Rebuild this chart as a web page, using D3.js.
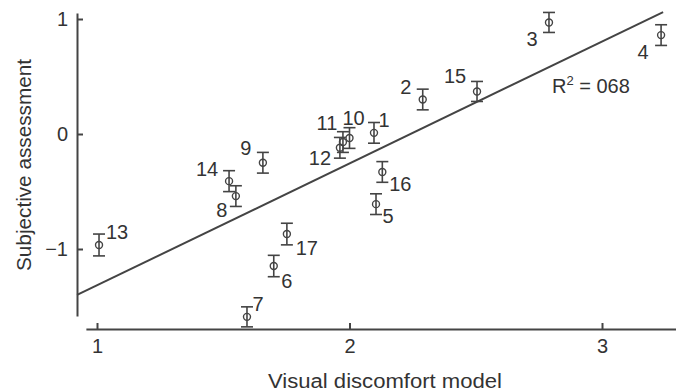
<!DOCTYPE html>
<html>
<head>
<meta charset="utf-8">
<script src="https://cdn.jsdelivr.net/npm/d3@7"></script>
<style>
  body { margin: 0; background: #fff; }
  svg text { font-family: "Liberation Sans", Arial, sans-serif; fill: #333; }
</style>
</head>
<body>
<div id="chart"></div>
<script>
// data
const ids = ["1","2","3","4","5","6","7","8","9","10","11","12","13","14","15","16","17"];
const modelVals = [2.097, 2.29, 2.79, 3.234, 2.105, 1.70, 1.594, 1.55, 1.657, 2.0, 1.974, 1.962, 1.008, 1.523, 2.505, 2.13, 1.752];
const subjVals = [0.01, 0.30, 0.97, 0.86, -0.61, -1.148, -1.59, -0.54, -0.25, -0.035, -0.07, -0.12, -0.965, -0.41, 0.37, -0.33, -0.87];
const errVals = [0.09, 0.09, 0.087, 0.09, 0.09, 0.093, 0.087, 0.09, 0.09, 0.09, 0.09, 0.09, 0.095, 0.091, 0.087, 0.09, 0.094];
const xTicks = [1, 2, 3];
const yTicks = [-1, 0, 1];
const fitSlope = 1.06, fitIntercept = -2.376;
const fitRange = [0.921, 3.242];
const r2Text = "068";

// label placement (px offsets from each point)
const labelOffsets = [[10,-6],[-17,-6],[-17,24],[-18,24],[12,19],[13,22],[11,-6],[-14,21],[-17,-8],
  [4,-13],[-16,-12],[-20,17],[18,-6],[-22,-5],[-22,-8],[18,19],[20,21]];

const width = 676, height = 392;
const ink = "#444";

const svg = d3.select("#chart").append("svg")
  .attr("width", width)
  .attr("height", height);

const x = d3.scaleLinear().domain([1, 3]).range([97, 602]);
const y = d3.scaleLinear().domain([-1, 1]).range([249, 19]);

// axes, drawn with scale copies so the axis lines cover the plotted span
const xAxisScale = x.copy().domain([0.956, 3.32]).range([x(0.956), x(3.32)]);
const yAxisScale = y.copy().domain([-1.583, 1.052]).range([y(-1.583), y(1.052)]);

const gx = svg.append("g")
  .attr("transform", "translate(0,329)")
  .call(d3.axisBottom(xAxisScale).tickValues(xTicks).tickSizeInner(-6).tickSizeOuter(0).tickPadding(10).tickFormat(d3.format("d")));

const gy = svg.append("g")
  .attr("transform", "translate(77,0)")
  .call(d3.axisLeft(yAxisScale).tickValues(yTicks).tickSizeInner(-6).tickSizeOuter(0).tickPadding(10)
    .tickFormat(d => d < 0 ? "\u2212" + Math.abs(d) : d));

[gx, gy].forEach(g => {
  g.select(".domain").attr("stroke", ink).attr("stroke-width", 2);
  g.selectAll(".tick line").attr("stroke", ink).attr("stroke-width", 2);
  g.selectAll(".tick text").attr("fill", "#333").style("font-size", "20px")
    .style("font-family", "'Liberation Sans', Arial, sans-serif");
});
gy.selectAll(".tick text").attr("x", -9);

// regression line
svg.append("line")
  .attr("x1", x(fitRange[0])).attr("y1", y(fitSlope * fitRange[0] + fitIntercept))
  .attr("x2", x(fitRange[1])).attr("y2", y(fitSlope * fitRange[1] + fitIntercept))
  .attr("stroke", ink).attr("stroke-width", 2);

const pts = ids.map((id, i) => ({ id, mx: modelVals[i], sv: subjVals[i], e: errVals[i], off: labelOffsets[i] }));

const g = svg.append("g").selectAll("g").data(pts).join("g");

g.append("line")
  .attr("x1", d => x(d.mx)).attr("x2", d => x(d.mx))
  .attr("y1", d => y(d.sv - d.e)).attr("y2", d => y(d.sv + d.e))
  .attr("stroke", ink).attr("stroke-width", 1.6);
g.append("line")
  .attr("x1", d => x(d.mx) - 6).attr("x2", d => x(d.mx) + 6)
  .attr("y1", d => y(d.sv + d.e)).attr("y2", d => y(d.sv + d.e))
  .attr("stroke", ink).attr("stroke-width", 1.6);
g.append("line")
  .attr("x1", d => x(d.mx) - 6).attr("x2", d => x(d.mx) + 6)
  .attr("y1", d => y(d.sv - d.e)).attr("y2", d => y(d.sv - d.e))
  .attr("stroke", ink).attr("stroke-width", 1.6);
g.append("circle")
  .attr("cx", d => x(d.mx)).attr("cy", d => y(d.sv))
  .attr("r", 3.5)
  .attr("fill", "none").attr("stroke", ink).attr("stroke-width", 1.4);

g.append("text")
  .attr("x", d => x(d.mx) + d.off[0])
  .attr("y", d => y(d.sv) + d.off[1])
  .attr("text-anchor", "middle")
  .style("font-size", "20px")
  .text(d => d.id);

// R squared note
const r2 = svg.append("text").attr("x", 552).attr("y", 93).style("font-size", "20px");
r2.append("tspan").text("R");
r2.append("tspan").attr("dy", -8).style("font-size", "13px").text("2");
r2.append("tspan").attr("dy", 8).text(" = " + r2Text);

// axis titles
svg.append("text")
  .attr("x", 385).attr("y", 388)
  .attr("text-anchor", "middle")
  .attr("textLength", 234).attr("lengthAdjust", "spacingAndGlyphs")
  .style("font-size", "20px")
  .text("Visual discomfort model");

svg.append("text")
  .attr("transform", "translate(31,165) rotate(-90)")
  .attr("text-anchor", "middle")
  .attr("textLength", 212).attr("lengthAdjust", "spacingAndGlyphs")
  .style("font-size", "20px")
  .text("Subjective assessment");
</script>
</body>
</html>
